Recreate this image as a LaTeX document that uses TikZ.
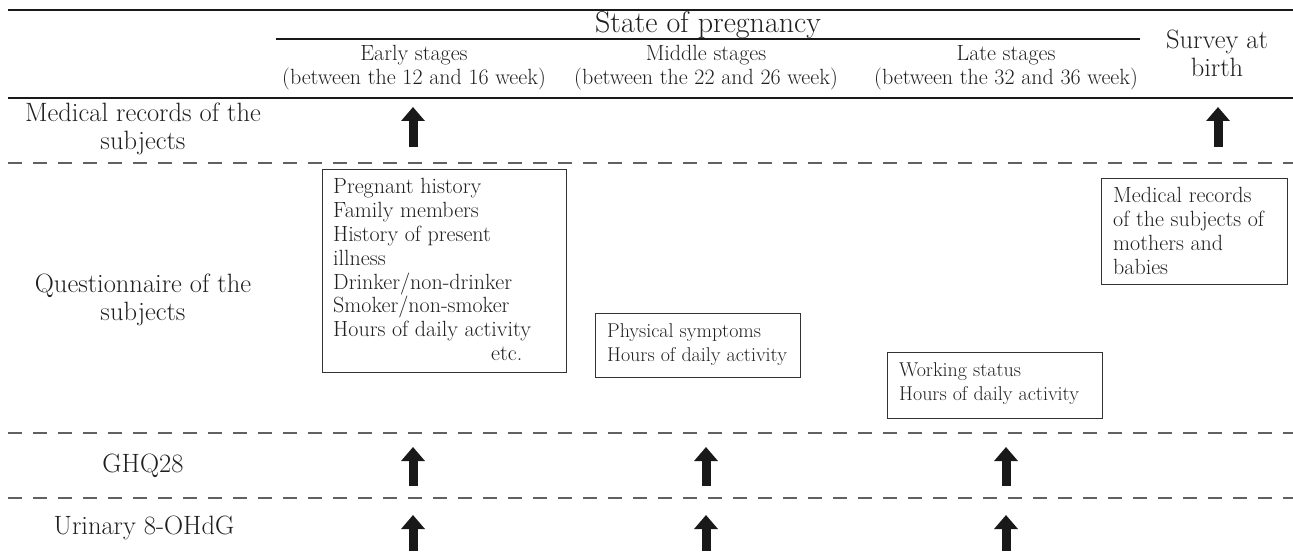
\documentclass[tikz,border=0pt]{standalone}
\usetikzlibrary{arrows.meta}
\begin{document}
\begin{tikzpicture}[x=1pt,y=-1pt,
  lbl/.style={font=\fontsize{26.5}{28}\selectfont, align=center, text=black!88, inner sep=0pt},
  head/.style={font=\fontsize{22}{24}\selectfont, align=center, text=black!88, inner sep=0pt},
  title/.style={font=\fontsize{30}{32}\selectfont, text=black!88, inner sep=0pt},
  boxframe/.style={draw=black!80, line width=1.4pt, anchor=north west, inner sep=0pt},
  boxtext/.style={text=black!88, font=\fontsize{22}{23.8}\selectfont, align=left, anchor=north west, inner sep=0pt},
  boxtextsmall/.style={boxtext, font=\fontsize{20}{23.3}\selectfont},
  rulebold/.style={line width=2.5pt, black!90},
  sepline/.style={line width=2pt, black!62, dash pattern=on 14pt off 11pt},
  uparrow/.style={line width=9pt, black!90, -{Triangle[width=23pt,length=14pt]}}]
\useasboundingbox (0,0) rectangle (1293,553);

% horizontal rules
\coordinate (t1) at (8,10);   \coordinate (t2) at (1293,10);
\coordinate (u1) at (276,39); \coordinate (u2) at (1140,39);
\coordinate (h1) at (8,98);   \coordinate (h2) at (1293,98);
\coordinate (d1a) at (8,163); \coordinate (d1b) at (1293,163);
\coordinate (d2a) at (8,433); \coordinate (d2b) at (1293,433);
\coordinate (d3a) at (8,498); \coordinate (d3b) at (1293,498);
\draw[rulebold] (t1) -- (t2);
\draw[line width=2pt, black!90] (u1) -- (u2);
\draw[rulebold] (h1) -- (h2);
\draw[sepline] (d1a) -- (d1b);
\draw[sepline] (d2a) -- (d2b);
\draw[sepline] (d3a) -- (d3b);

% header
\node[title] (state) at (708,25) {State of pregnancy};
\node[head] (early) at (414,68) {Early stages\\(between the 12 and 16 week)};
\node[head] (middle) at (706,68) {Middle stages\\(between the 22 and 26 week)};
\node[head] (late) at (1006,68) {Late stages\\(between the 32 and 36 week)};
\node[lbl] (survey) at (1217,53) {Survey at\\birth};

% row labels
\node[lbl] (medrec) at (143,129) {Medical records of the\\subjects};
\node[lbl] (quest) at (143,300) {Questionnaire of the\\subjects};
\node[lbl] (ghq) at (143,466) {GHQ28};
\node[lbl] (urin) at (144,528) {Urinary 8-OHdG};

% boxes
\node[boxframe, minimum width=244pt, minimum height=203pt] (box1) at (322,169) {};
\node[boxtext] (box1t) at (333,178.5) {Pregnant history\\Family members\\History of present\\illness\\Drinker/non-drinker\\Smoker/non-smoker\\Hours of daily activity\\\hspace*{158pt}etc.};
\node[boxframe, minimum width=205pt, minimum height=64pt] (box2) at (595,313) {};
\node[boxtextsmall] (box2t) at (607,323.7) {Physical symptoms\\Hours of daily activity};
\node[boxframe, minimum width=215pt, minimum height=66pt] (box3) at (887,352) {};
\node[boxtextsmall] (box3t) at (899,362.7) {Working status\\Hours of daily activity};
\node[boxframe, minimum width=186pt, minimum height=106pt] (box4) at (1101,178) {};
\node[boxtext] (box4t) at (1113,187.5) {Medical records\\of the subjects of\\mothers and\\babies};

% arrows
\coordinate (a1b) at (413,147); \coordinate (a1t) at (413,107);
\coordinate (a2b) at (1218,147); \coordinate (a2t) at (1218,107);
\coordinate (g1b) at (413,486); \coordinate (g1t) at (413,447);
\coordinate (g2b) at (706,486); \coordinate (g2t) at (706,447);
\coordinate (g3b) at (1006,486); \coordinate (g3t) at (1006,447);
\coordinate (r1b) at (413,551); \coordinate (r1t) at (413,515);
\coordinate (r2b) at (706,551); \coordinate (r2t) at (706,515);
\coordinate (r3b) at (1006,551); \coordinate (r3t) at (1006,515);
\draw[uparrow] (a1b) -- (a1t);
\draw[uparrow] (a2b) -- (a2t);
\draw[uparrow] (g1b) -- (g1t);
\draw[uparrow] (g2b) -- (g2t);
\draw[uparrow] (g3b) -- (g3t);
\draw[uparrow] (r1b) -- (r1t);
\draw[uparrow] (r2b) -- (r2t);
\draw[uparrow] (r3b) -- (r3t);
\end{tikzpicture}
\end{document}
